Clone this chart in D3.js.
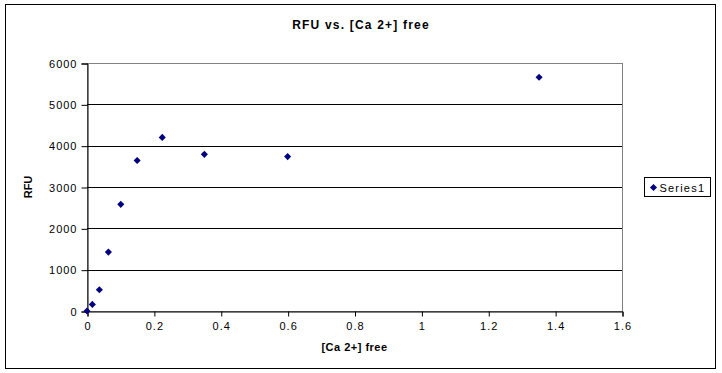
<!DOCTYPE html>
<html>
<head>
<meta charset="utf-8">
<script src="https://cdn.jsdelivr.net/npm/d3@7"></script>
<style>
  body { margin: 0; background: #fff; }
  text { font-family: "Liberation Sans", Arial, sans-serif; }
</style>
</head>
<body>
<svg id="chart"></svg>
<script>
// data
var caFree = [0, 0.016, 0.037, 0.064, 0.101, 0.150, 0.225, 0.351, 0.600, 1.352];
var rfu = [0, 160, 515, 1425, 2580, 3640, 4200, 3790, 3735, 5655];
var xTicks = [0, 0.2, 0.4, 0.6, 0.8, 1, 1.2, 1.4, 1.6];
var yTicks = [0, 1000, 2000, 3000, 4000, 5000, 6000];
var seriesName = "Series1";

var screen = { width: 722, height: 373 };
var margins = { top: 63, bottom: 62, left: 87, right: 100 };

var graphWidth = screen.width - margins.left - margins.right;
var graphHeight = screen.height - margins.top - margins.bottom;

var svg = d3.select("#chart")
  .attr("width", screen.width)
  .attr("height", screen.height);

// outer chart border
svg.append("rect")
  .attr("x", 5.5).attr("y", 4.5)
  .attr("width", 710).attr("height", 364)
  .attr("fill", "white")
  .attr("stroke", "black");

var xScale = d3.scaleLinear().domain([0, 1.6]).range([0, graphWidth]);
var yScale = d3.scaleLinear().domain([0, 6000]).range([graphHeight, 0]);

var g = svg.append("g")
  .attr("transform", "translate(" + margins.left + "," + margins.top + ")");

// plot border (gray top/right)
g.append("rect")
  .attr("x", 0.5).attr("y", 0.5)
  .attr("width", graphWidth).attr("height", graphHeight)
  .attr("fill", "none")
  .attr("stroke", "#808080");

// gridlines
g.selectAll("line.grid")
  .data(yTicks.filter(function(d) { return d > 0 && d < 6000; }))
  .enter()
  .append("line")
  .attr("class", "grid")
  .attr("x1", 0).attr("x2", graphWidth)
  .attr("y1", function(d) { return Math.round(yScale(d)) + 0.5; })
  .attr("y2", function(d) { return Math.round(yScale(d)) + 0.5; })
  .attr("stroke", "black");

var yAxis = d3.axisLeft(yScale)
  .tickValues(yTicks)
  .tickSize(6)
  .tickPadding(4)
  .tickFormat(d3.format("d"));

var xAxis = d3.axisBottom(xScale)
  .tickValues(xTicks)
  .tickSize(5)
  .tickPadding(6)
  .tickFormat(function(d) { return d; });

var yAxisGraphic = g.append("g")
  .attr("transform", "translate(0.5,0.5)")
  .call(yAxis);

var xAxisGraphic = g.append("g")
  .attr("transform", "translate(0.5," + (graphHeight + 0.5) + ")")
  .call(xAxis);

[xAxisGraphic, yAxisGraphic].forEach(function(ax) {
  ax.select(".domain").attr("stroke", "black");
  ax.selectAll(".tick line").attr("stroke", "black");
  ax.selectAll(".tick text")
    .attr("fill", "black")
    .style("font-family", "'Liberation Sans', Arial, sans-serif")
    .style("font-size", "11px")
    .style("letter-spacing", "1px");
});

// points
var diamond = d3.symbol().type(d3.symbolDiamond2).size(32);
g.selectAll("path.pt")
  .data(caFree)
  .enter()
  .append("path")
  .attr("class", "pt")
  .attr("d", diamond)
  .attr("transform", function(d, i) {
    return "translate(" + xScale(d) + "," + yScale(rfu[i]) + ")";
  })
  .attr("fill", "#000080");

// title
svg.append("text")
  .attr("x", 361).attr("y", 29)
  .attr("text-anchor", "middle")
  .style("font-size", "12px")
  .style("font-weight", "bold")
  .style("letter-spacing", "1.2px")
  .text("RFU vs. [Ca 2+] free");

svg.append("text")
  .attr("x", margins.left + graphWidth / 2).attr("y", 351)
  .attr("text-anchor", "middle")
  .style("font-size", "11px")
  .style("font-weight", "bold")
  .style("letter-spacing", "0.5px")
  .text("[Ca 2+] free");

svg.append("text")
  .attr("transform", "translate(32," + (margins.top + graphHeight / 2) + ") rotate(-90)")
  .attr("text-anchor", "middle")
  .style("font-size", "11px")
  .style("font-weight", "bold")
  .text("RFU");

// legend
var legend = svg.append("g").attr("transform", "translate(644.5,177.5)");
legend.append("rect")
  .attr("width", 66).attr("height", 19)
  .attr("fill", "white")
  .attr("stroke", "black");
legend.append("path")
  .attr("d", diamond)
  .attr("transform", "translate(9,10)")
  .attr("fill", "#000080");
legend.append("text")
  .attr("x", 15).attr("y", 14)
  .style("font-size", "11px")
  .style("letter-spacing", "1.2px")
  .text(seriesName);
</script>
</body>
</html>
